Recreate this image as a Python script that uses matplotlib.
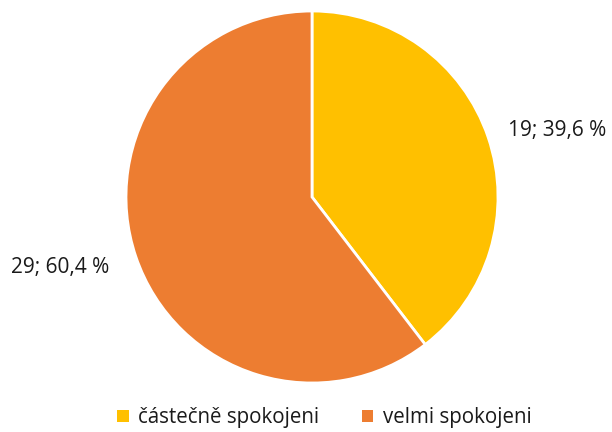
import matplotlib
matplotlib.use("Agg")
import matplotlib.pyplot as plt
from matplotlib.patches import Patch

# data
categories = ['částečně spokojeni', 'velmi spokojeni']
counts = [19, 29]
colors = ['#FFC000', '#ED7D31']

total = sum(counts)
labels = [f"{c}; {c / total * 100:.1f} %".replace('.', ',') for c in counts]

plt.rcParams['font.family'] = ['Open Sans', 'DejaVu Sans']

fig = plt.figure(figsize=(6.12, 4.32), dpi=100)
r = 186
ax = fig.add_axes([(312 - r) / 612, (432 - 197 - r) / 432, 2 * r / 612, 2 * r / 432])

wedges, texts = ax.pie(counts, colors=colors, startangle=90, counterclock=False,
                       labels=labels, labeldistance=1.11,
                       wedgeprops=dict(edgecolor='white', linewidth=2),
                       textprops=dict(fontsize=15, color='#1a1a1a'))
texts[1].set_position((texts[1].get_position()[0] - 0.04, texts[1].get_position()[1] - 0.02))
ax.set_xlim(-1, 1)
ax.set_ylim(-1, 1)
ax.set_aspect('equal')
ax.axis('off')

handles = [Patch(facecolor=c, edgecolor='none') for c in colors]
fig.legend(handles, categories, loc='center', bbox_to_anchor=(0.53, 1 - 418 / 432),
           ncol=2, frameon=False, handlelength=0.55, handleheight=0.55,
           handletextpad=0.45, columnspacing=2.1, labelcolor='#1a1a1a',
           prop=dict(size=14.8))

fig.savefig('out.png', dpi=100)
